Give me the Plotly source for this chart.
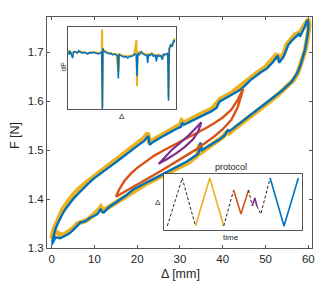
import plotly.graph_objects as go

# ---------------- main hysteresis data ----------------
blue_d = [0.0, 0.5, 0.9, 1.5, 2.0, 2.7, 3.2, 4.0, 4.8, 5.9, 6.7, 7.9, 9.0, 10.0, 10.6, 11.1, 11.4, 11.8, 12.2,
          13.3, 14.5, 15.7, 17.6, 19.1, 20.5, 22.2, 23.8, 25.3, 26.9, 28.4, 30.0, 31.6, 33.0, 34.3, 34.8, 35.1,
          36.0, 37.0, 38.2, 39.4, 40.5, 41.2, 41.6, 42.5, 44.0, 45.5, 47.1, 48.6, 50.2, 51.4, 52.6, 53.6, 54.5,
          55.4, 56.1, 57.0, 57.7, 58.3, 58.8, 59.2, 59.5, 59.8, 60.0, 60.0,
          59.8, 59.3, 58.8, 58.3, 58.05, 57.9, 57.3, 56.6, 56.1, 55.3, 54.7, 54.2, 53.6, 53.2, 52.9, 52.6,
          51.8, 51.0, 50.3, 49.0, 47.9, 47.0, 46.4, 45.2, 44.0, 42.8, 41.7, 40.5, 39.7, 39.3, 38.95, 38.6,
          37.4, 36.2, 35.0, 33.9, 32.7, 31.6, 30.9, 30.5, 30.2, 29.2, 28.0, 26.9, 25.7, 24.5, 23.7, 22.9,
          22.6, 22.4, 21.5, 20.5, 19.1, 17.6, 16.0, 14.5, 13.3, 12.2, 11.0, 9.8, 8.6, 7.5, 6.3, 5.1, 4.3,
          3.6, 2.8, 2.0, 1.4, 0.85, 0.4, 0.07]
blue_f = [1.307, 1.315, 1.322, 1.321, 1.320, 1.323, 1.325, 1.329, 1.335, 1.345, 1.352, 1.355, 1.362, 1.366,
          1.369, 1.374, 1.380, 1.374, 1.373, 1.383, 1.390, 1.398, 1.409, 1.420, 1.427, 1.434, 1.441, 1.448,
          1.455, 1.462, 1.469, 1.477, 1.485, 1.493, 1.516, 1.500, 1.505, 1.510, 1.516, 1.523, 1.531, 1.541,
          1.539, 1.545, 1.554, 1.564, 1.575, 1.586, 1.597, 1.605, 1.613, 1.620, 1.627, 1.634, 1.640, 1.652,
          1.663, 1.677, 1.691, 1.705, 1.718, 1.733, 1.746, 1.762,
          1.766, 1.755, 1.746, 1.738, 1.732, 1.739, 1.733, 1.728, 1.724, 1.715, 1.702, 1.691, 1.684, 1.679,
          1.692, 1.691, 1.681, 1.673, 1.667, 1.660, 1.653, 1.647, 1.643, 1.632, 1.623, 1.617, 1.612, 1.607,
          1.602, 1.600, 1.595, 1.587, 1.580, 1.575, 1.569, 1.564, 1.559, 1.555, 1.552, 1.556, 1.548, 1.544,
          1.539, 1.533, 1.527, 1.521, 1.517, 1.511, 1.529, 1.527, 1.518, 1.512, 1.503, 1.494, 1.482, 1.472,
          1.464, 1.458, 1.450, 1.442, 1.432, 1.423, 1.412, 1.401, 1.393, 1.384, 1.374, 1.362, 1.350, 1.338,
          1.325, 1.312]

orange_d = [0.0, 0.6, 1.2, 2.0, 3.0, 4.0, 5.0, 6.0, 7.0, 8.0, 9.0, 10.0, 11.0, 11.5, 12.0, 13.0, 14.0, 15.0,
            16.5, 18.0, 20.0, 22.0, 24.0, 26.0, 28.0, 30.0, 32.0, 34.0, 34.6, 35.0, 36.0, 38.0, 40.0, 41.0,
            41.5, 43.0, 45.0, 47.0, 49.0, 51.0, 53.0, 55.0, 56.5, 57.5, 58.5, 59.3, 59.8, 60.2, 60.0,
            59.4, 58.5, 58.0, 57.0, 56.0, 55.0, 54.3, 53.5, 53.0, 52.7, 51.5, 50.0, 48.0, 46.0, 44.0, 42.0,
            40.0, 39.2, 38.8, 37.5, 36.0, 34.0, 32.0, 30.8, 30.4, 30.0, 28.0, 26.0, 24.5, 23.2, 22.8, 22.5,
            21.5, 20.0, 18.0, 16.0, 14.0, 12.0, 10.0, 8.0, 6.0, 4.0, 2.5, 1.5, 0.6, 0.0]
orange_f = [1.318, 1.330, 1.332, 1.327, 1.328, 1.333, 1.340, 1.350, 1.352, 1.356, 1.362, 1.369, 1.378, 1.384,
            1.376, 1.382, 1.388, 1.394, 1.401, 1.409, 1.421, 1.431, 1.440, 1.449, 1.458, 1.466, 1.475, 1.489,
            1.512, 1.496, 1.502, 1.513, 1.527, 1.537, 1.535, 1.546, 1.559, 1.572, 1.586, 1.600, 1.614, 1.629,
            1.643, 1.657, 1.680, 1.705, 1.730, 1.755, 1.768,
            1.760, 1.750, 1.740, 1.737, 1.728, 1.717, 1.698, 1.688, 1.684, 1.697, 1.685, 1.670, 1.658, 1.644,
            1.628, 1.617, 1.607, 1.603, 1.598, 1.585, 1.579, 1.569, 1.561, 1.556, 1.560, 1.552, 1.543, 1.533,
            1.525, 1.518, 1.515, 1.535, 1.524, 1.514, 1.501, 1.487, 1.474, 1.461, 1.447, 1.433, 1.418, 1.398,
            1.378, 1.360, 1.340, 1.322]

red_d = [15.0, 15.8, 17.0, 18.5, 20.0, 22.0, 24.0, 26.0, 28.0, 30.0, 32.0, 34.0, 36.0, 38.0, 40.0, 42.0, 43.5,
         44.8, 43.5, 42.0, 40.0, 38.0, 36.0, 34.0, 32.0, 30.0, 28.0, 26.0, 24.0, 22.0, 20.0, 18.0, 16.0, 15.0]
red_f = [1.405, 1.420, 1.437, 1.452, 1.464, 1.477, 1.489, 1.499, 1.508, 1.517, 1.526, 1.535, 1.545, 1.555,
         1.567, 1.583, 1.603, 1.626, 1.588, 1.562, 1.543, 1.528, 1.515, 1.503, 1.492, 1.481, 1.470, 1.460,
         1.450, 1.440, 1.430, 1.420, 1.410, 1.405]

purple_d = [25.0, 26.5, 28.0, 30.0, 32.0, 34.0, 35.0, 34.2, 33.0, 31.0, 29.0, 27.0, 25.0]
purple_f = [1.472, 1.487, 1.500, 1.515, 1.530, 1.548, 1.557, 1.537, 1.522, 1.506, 1.493, 1.482, 1.472]

# ---------------- inset 1: dF vs Δ ----------------
dfb_x = [0, 0.5, 1, 1.5, 2.5, 3, 4, 5, 6, 7, 8, 9, 10, 11, 12, 13, 14, 15, 16, 17, 18, 18.8, 19.2, 19.5, 20,
         21, 22, 23, 24, 25, 26, 27, 27.8, 28.2, 28.6, 29.5, 30.5, 31.5, 32.5, 33.5, 34.5, 35.5, 36.5, 37.5,
         38.2, 38.7, 39.1, 40, 41, 42, 43, 44.2, 44.7, 45.2, 46, 47, 48, 49, 49.6, 50.2, 51, 52, 53, 53.5,
         54.5, 55.5, 56.0, 56.4, 56.8, 57.5, 58.5, 59.3, 60]
dfb_y = [0.70, 0.66, 0.71, 0.68, 0.62, 0.69, 0.70, 0.68, 0.71, 0.69, 0.68, 0.69, 0.68, 0.67, 0.69, 0.68, 0.69,
         0.68, 0.68, 0.67, 0.68, 0.69, 0.0, 0.74, 0.70, 0.69, 0.68, 0.67, 0.68, 0.66, 0.67, 0.66, 0.65, 0.37,
         0.66, 0.65, 0.64, 0.63, 0.64, 0.62, 0.64, 0.64, 0.65, 0.67, 0.66, 0.40, 0.68, 0.66, 0.70, 0.67, 0.66,
         0.65, 0.56, 0.66, 0.65, 0.67, 0.64, 0.66, 0.58, 0.66, 0.64, 0.65, 0.60, 0.67, 0.66, 0.68, 0.68, 0.10,
         0.72, 0.78, 0.76, 0.84, 0.82]
dfo_x = [0, 1, 2, 3, 5, 7, 9, 11, 13, 15, 17, 18.8, 19.1, 19.3, 19.6, 21, 23, 25, 27, 28.2, 28.6, 31, 33, 35,
         37, 38.4, 38.7, 39.1, 41, 43, 45, 47, 49, 51, 53, 55, 56.1, 56.4, 56.8, 58, 59, 60]
dfo_y = [0.72, 0.69, 0.67, 0.70, 0.69, 0.70, 0.69, 0.68, 0.69, 0.69, 0.68, 0.70, 0.97, 0.02, 0.72, 0.70, 0.68,
         0.67, 0.67, 0.45, 0.67, 0.65, 0.64, 0.65, 0.66, 0.84, 0.28, 0.69, 0.69, 0.67, 0.66, 0.68, 0.65, 0.66,
         0.64, 0.67, 0.66, 0.14, 0.74, 0.78, 0.80, 0.86]

# ---------------- inset 2: protocol ----------------
p_black1_t = [0.0, 15.0, 28.33]
p_black1_v = [0, 60, 0]
p_orange_t = [28.33, 42.67, 56.67]
p_orange_v = [0, 60, 0]
p_black2_t = [56.67, 66.67]
p_black2_v = [0, 45]
p_red_t = [66.67, 74.0, 81.67]
p_red_v = [45, 15, 45]
p_black3_t = [81.67, 85.33]
p_black3_v = [45, 25]
p_purple_t = [85.33, 88.0, 90.0]
p_purple_v = [25, 35, 25]
p_black4_t = [90.0, 94.0, 103.33]
p_black4_v = [25, 15, 60]
p_blue_t = [103.33, 117.33, 131.67]
p_blue_v = [60, 0, 60]

C_BLUE = "#0072BD"
C_ORANGE = "#EDB120"
C_RED = "#D95319"
C_PURPLE = "#7E2F8E"
FRAME = "#555555"
TXT = "#262626"

# plot area in figure pixels
L, R, T, B = 47, 312, 17, 248
W, H = 332, 286

fig = go.Figure()

fig.add_trace(go.Scatter(x=orange_d, y=orange_f, mode="lines",
                         line=dict(color=C_ORANGE, width=4.8), xaxis="x", yaxis="y"))
fig.add_trace(go.Scatter(x=blue_d, y=blue_f, mode="lines",
                         line=dict(color=C_BLUE, width=2.4), xaxis="x", yaxis="y"))
fig.add_trace(go.Scatter(x=red_d, y=red_f, mode="lines",
                         line=dict(color=C_RED, width=2.4), xaxis="x", yaxis="y"))
fig.add_trace(go.Scatter(x=purple_d, y=purple_f, mode="lines",
                         line=dict(color=C_PURPLE, width=2.2), xaxis="x", yaxis="y"))

fig.add_trace(go.Scatter(x=dfo_x, y=dfo_y, mode="lines",
                         line=dict(color=C_ORANGE, width=2), xaxis="x2", yaxis="y2"))
fig.add_trace(go.Scatter(x=dfb_x, y=dfb_y, mode="lines",
                         line=dict(color=C_BLUE, width=1.5), xaxis="x2", yaxis="y2"))

for tt, vv, col, dash in [
    (p_black1_t, p_black1_v, "#222222", True),
    (p_orange_t, p_orange_v, C_ORANGE, False),
    (p_black2_t, p_black2_v, "#222222", True),
    (p_red_t, p_red_v, C_RED, False),
    (p_black3_t, p_black3_v, "#222222", True),
    (p_purple_t, p_purple_v, C_PURPLE, False),
    (p_black4_t, p_black4_v, "#222222", True),
    (p_blue_t, p_blue_v, C_BLUE, False),
]:
    fig.add_trace(go.Scatter(x=tt, y=vv, mode="lines",
                             line=dict(color=col, width=1 if dash else 1.6,
                                       dash="3px,2px" if dash else "solid"),
                             xaxis="x3", yaxis="y3"))

axis_common = dict(showgrid=False, zeroline=False, showline=True, linecolor=FRAME, linewidth=1,
                   mirror=True, showticklabels=False, ticks="", automargin=False)

fig.update_layout(
    width=W, height=H,
    margin=dict(l=L, r=W - R, t=T, b=H - B, autoexpand=False),
    paper_bgcolor="white", plot_bgcolor="white",
    showlegend=False,
    font=dict(family="Liberation Sans, Arial, sans-serif", color=TXT),
    xaxis=dict(domain=[0, 1], range=[-1.1, 60.87], tickmode="array", tickvals=[0, 10, 20, 30, 40, 50, 60],
               ticks="inside", ticklen=3, tickcolor=FRAME, mirror="ticks", showline=True, linecolor=FRAME,
               linewidth=1, showgrid=False, zeroline=False, tickfont=dict(size=11.5, color=TXT),
               automargin=False),
    yaxis=dict(domain=[0, 1], range=[1.3, 1.7725], tickmode="array", tickvals=[1.3, 1.4, 1.5, 1.6, 1.7],
               ticktext=["1.3", "1.4", "1.5", "1.6", "1.7"],
               ticks="inside", ticklen=3, tickcolor=FRAME, mirror="ticks", showline=True, linecolor=FRAME,
               linewidth=1, showgrid=False, zeroline=False, tickfont=dict(size=11.5, color=TXT),
               automargin=False),
    xaxis2=dict(domain=[0.080, 0.486], anchor="y2", range=[0, 60.5], **axis_common),
    yaxis2=dict(domain=[0.602, 0.957], anchor="x2", range=[0, 1], **axis_common),
    xaxis3=dict(domain=[0.4415, 0.962], anchor="y3", range=[-3.33, 135.3], **axis_common),
    yaxis3=dict(domain=[0.078, 0.320], anchor="x3", range=[-5, 65], **axis_common),
)


def px_ann(text, xpx, ypx, size, angle=0):
    xp = (xpx - L) / (R - L)
    yp = 1 - (ypx - T) / (B - T)
    return dict(text=text, x=xp, y=yp, xref="paper", yref="paper", showarrow=False,
                font=dict(size=size, color=TXT), textangle=angle, xanchor="center", yanchor="middle")


fig.layout.annotations = [
    px_ann("F [N]", 15, 136, 12.5, -90),
    px_ann("Δ [mm]", 180, 274, 12.5),
    px_ann("dF", 62.5, 67, 8, -90),
    px_ann("Δ", 122, 116, 8),
    px_ann("protocol", 231, 167, 9),
    px_ann("time", 231, 237, 8),
    px_ann("Δ", 158, 202, 8),
]

fig.write_html("out.html", config={"displayModeBar": False},
               post_script="document.body.style.margin='0';document.body.style.padding='0';")
